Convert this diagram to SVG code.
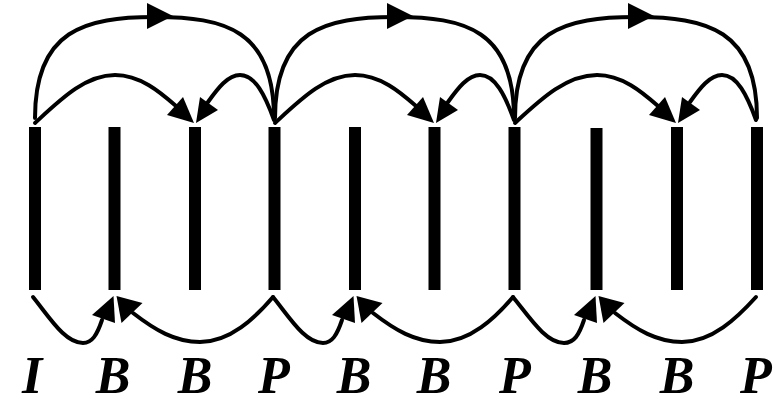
<svg xmlns="http://www.w3.org/2000/svg" width="779" height="404" viewBox="0 0 779 404">
<style>
.bar{fill:#000}
.c{fill:none;stroke:#000;stroke-width:4;stroke-linecap:round}
.h{fill:#000;stroke:none}
.t{font-family:"Liberation Serif","Times New Roman",serif;font-weight:bold;font-style:italic;font-size:52px;fill:#000;text-anchor:middle}
</style>
<rect width="779" height="404" fill="#fff"/>
<g id="connectors">
<path class="c" d="M35,118 C35,30 85,17 155,17 C225,17 274,30 274,118"/>
<polygon class="h" points="173,16 147,3 147,29"/>
<path class="c" d="M35,123 C60,100 85,75 115,75 C140,75 160,92 176,106"/>
<polygon class="h" points="194,123 167,115 183,97"/>
<path class="c" d="M274,120 C265,95 255,75 240,75 C228,75 218,88 208,102"/>
<polygon class="h" points="196,123 200,97 218,110"/>
<path class="c" d="M33,297 C50,318 65,343 83,343 C92,343 97,335 102,320"/>
<polygon class="h" points="113.5,296 92,315 115,323"/>
<path class="c" d="M273,297 C255,318 230,342 200,342 C175,342 155,330 133,313"/>
<polygon class="h" points="116.5,296 121.5,323 142.5,303"/>

<path class="c" d="M275,118 C275,30 325,17 395,17 C465,17 514,30 514,118"/>
<polygon class="h" points="413,16 387,3 387,29"/>
<path class="c" d="M275,123 C300,100 325,75 355,75 C380,75 400,92 416,106"/>
<polygon class="h" points="434,123 407,115 423,97"/>
<path class="c" d="M514,120 C505,95 495,75 480,75 C468,75 458,88 448,102"/>
<polygon class="h" points="436,123 440,97 458,110"/>
<path class="c" d="M273,297 C290,318 305,343 323,343 C332,343 337,335 342,320"/>
<polygon class="h" points="353.5,296 332,315 355,323"/>
<path class="c" d="M513,297 C495,318 470,342 440,342 C415,342 395,330 373,313"/>
<polygon class="h" points="356.5,296 361.5,323 382.5,303"/>

<path class="c" d="M515,118 C515,30 565,17 636,17 C707,17 757,30 757,118"/>
<polygon class="h" points="654,16 628,3 628,29"/>
<path class="c" d="M515,123 C540,100 566,75 597,75 C622,75 642,92 658,106"/>
<polygon class="h" points="676,123 649,115 665,97"/>
<path class="c" d="M756,120 C747,95 737,75 722,75 C710,75 700,88 690,102"/>
<polygon class="h" points="678,123 682,97 700,110"/>
<path class="c" d="M513,297 C530,318 546,343 564,343 C574,343 579,335 584,320"/>
<polygon class="h" points="595.5,296 574,315 597,323"/>
<path class="c" d="M756,297 C737,318 712,342 682,342 C657,342 637,330 615,313"/>
<polygon class="h" points="598.5,296 603.5,323 624.5,303"/>
</g>
<g id="f0"><rect class="bar" x="29" y="127" width="12" height="163"/><text class="t" x="32" y="393">I</text></g>
<g id="f1"><rect class="bar" x="108.5" y="127" width="12" height="163"/><text class="t" x="113" y="393">B</text></g>
<g id="f2"><rect class="bar" x="189" y="127" width="12" height="163"/><text class="t" x="195" y="393">B</text></g>
<g id="f3"><rect class="bar" x="268.5" y="127" width="12" height="163"/><text class="t" x="274" y="393">P</text></g>
<g id="f4"><rect class="bar" x="349" y="127" width="12" height="163"/><text class="t" x="354" y="393">B</text></g>
<g id="f5"><rect class="bar" x="428.5" y="127" width="12" height="163"/><text class="t" x="434" y="393">B</text></g>
<g id="f6"><rect class="bar" x="508.5" y="127" width="12" height="163"/><text class="t" x="515" y="393">P</text></g>
<g id="f7"><rect class="bar" x="590.5" y="128" width="12" height="162"/><text class="t" x="595" y="393">B</text></g>
<g id="f8"><rect class="bar" x="671" y="127" width="12" height="163"/><text class="t" x="677" y="393">B</text></g>
<g id="f9"><rect class="bar" x="751" y="127" width="12" height="163"/><text class="t" x="756" y="393">P</text></g>
</svg>
